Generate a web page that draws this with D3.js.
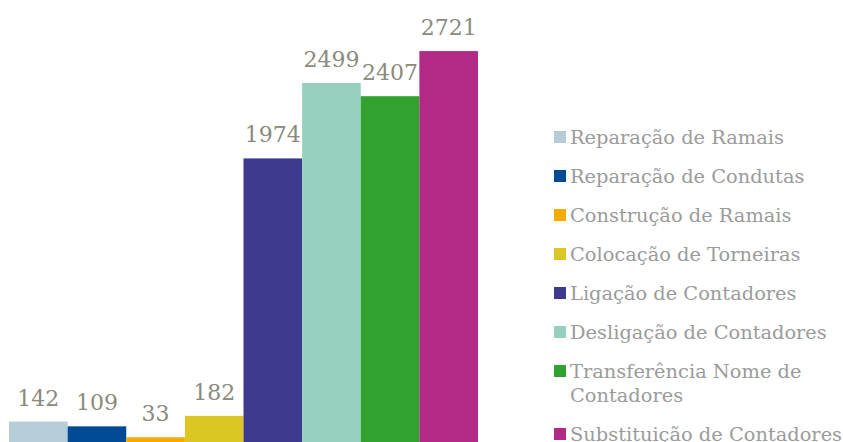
<!DOCTYPE html>
<html>
<head>
<meta charset="utf-8">
<script src="https://cdn.jsdelivr.net/npm/d3@7"></script>
<style>
  html, body { margin: 0; padding: 0; background: #fff; }
  svg { display: block; }
</style>
</head>
<body>
<div id="chart"></div>
<script>
// Chart data
const categories = [
  "Reparação de Ramais",
  "Reparação de Condutas",
  "Construção de Ramais",
  "Colocação de Torneiras",
  "Ligação de Contadores",
  "Desligação de Contadores",
  "Transferência Nome de Contadores",
  "Substituição de Contadores",
];
const values = [142, 109, 33, 182, 1974, 2499, 2407, 2721];
const colors = [
  "#b5cdd9",
  "#004b93",
  "#f6ab00",
  "#dcc623",
  "#3c3b8e",
  "#97d0be",
  "#32a22f",
  "#b12a86",
];
// legend labels split over lines where the original wraps
const legendLines = [
  ["Reparação de Ramais"],
  ["Reparação de Condutas"],
  ["Construção de Ramais"],
  ["Colocação de Torneiras"],
  ["Ligação de Contadores"],
  ["Desligação de Contadores"],
  ["Transferência Nome de", "Contadores"],
  ["Substituição de Contadores"],
];

const width = 843;
const height = 442;
const font = "'DejaVu Serif', serif";

const svg = d3
  .select("#chart")
  .append("svg")
  .attr("width", width)
  .attr("height", height);

const x = d3
  .scaleBand()
  .domain(categories)
  .range([9, 478])
  .padding(0);

const y = d3.scaleLinear().domain([0, 3000]).range([442, 11]);

// Bars
svg
  .selectAll("rect.bar")
  .data(values)
  .enter()
  .append("rect")
  .attr("class", "bar")
  .attr("x", (d, i) => x(categories[i]))
  .attr("y", (d) => y(d))
  .attr("width", x.bandwidth())
  .attr("height", (d) => y(0) - y(d))
  .attr("fill", (d, i) => colors[i]);

// Value labels
svg
  .selectAll("text.value")
  .data(values)
  .enter()
  .append("text")
  .attr("class", "value")
  .attr("x", (d, i) => x(categories[i]) + x.bandwidth() / 2)
  .attr("y", (d) => y(d) - 16)
  .attr("text-anchor", "middle")
  .attr("font-family", font)
  .attr("font-size", "22px")
  .attr("fill", "#8b8a7b")
  .text((d) => d);

// Legend
const legendX = 554;
const rowStep = 39;
const lineStep = 24;
let cursor = 137;
const legendRows = legendLines.map((lines) => {
  const cy = cursor;
  cursor += rowStep + (lines.length - 1) * lineStep;
  return { lines, cy };
});

const legend = svg
  .append("g")
  .attr("class", "legend")
  .selectAll("g")
  .data(legendRows)
  .enter()
  .append("g")
  .attr("transform", (d) => `translate(${legendX}, ${d.cy})`);

legend
  .append("rect")
  .attr("x", 0)
  .attr("y", -6)
  .attr("width", 12)
  .attr("height", 12)
  .attr("fill", (d, i) => colors[i]);

legend
  .append("text")
  .attr("x", 16)
  .attr("y", 7)
  .attr("font-family", font)
  .attr("font-size", "19.4px")
  .attr("fill", "#9b9b9b")
  .selectAll("tspan")
  .data((d) => d.lines)
  .enter()
  .append("tspan")
  .attr("x", 16)
  .attr("dy", (d, i) => (i === 0 ? 0 : lineStep))
  .text((d) => d);
</script>
</body>
</html>
